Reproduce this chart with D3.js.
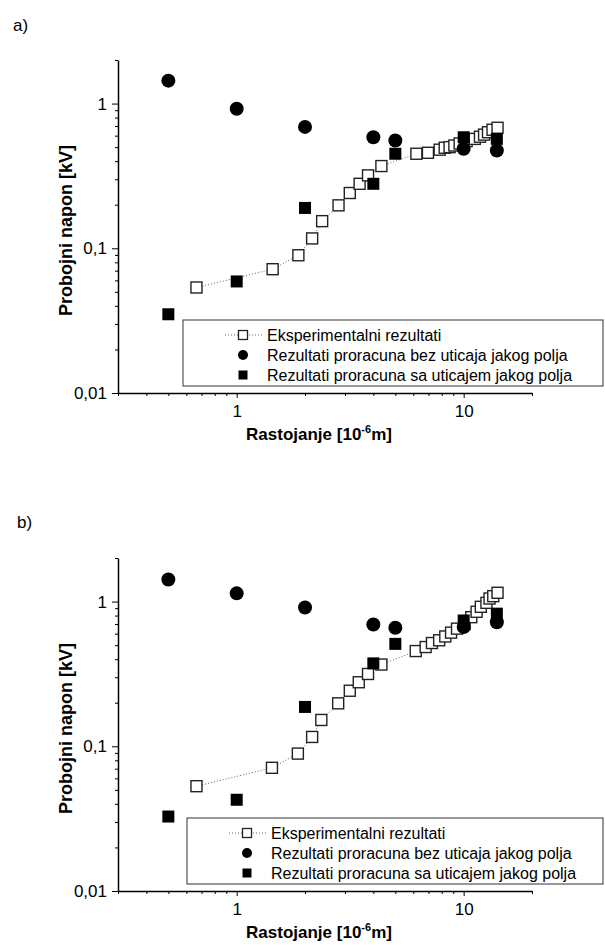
<!DOCTYPE html>
<html lang="sr">
<head>
  <meta charset="UTF-8">
  <title>Probojni napon</title>
  <script src="https://cdn.jsdelivr.net/npm/d3@7"></script>
  <style>
    body { margin: 0; background: #fff; }
    text { font-family: "Liberation Sans", Arial, sans-serif; fill: #000; }
  </style>
</head>
<body>
<script>
// computed points share the same distances
var calcX = [0.5, 1, 2, 4, 5, 10, 14];

// panel a
var aExpX = [0.665, 1.44, 1.87, 2.15, 2.38, 2.81, 3.15, 3.48, 3.79, 4.34, 6.19, 6.96, 7.84, 8.25, 8.67, 9.1, 9.6, 10.3, 11.2, 11.8, 12.3, 12.8, 13.4, 14.1];
var aExpY = [0.0536, 0.0717, 0.0895, 0.117, 0.154, 0.198, 0.241, 0.279, 0.319, 0.37, 0.45, 0.457, 0.48, 0.495, 0.50, 0.513, 0.53, 0.55, 0.57, 0.59, 0.61, 0.634, 0.659, 0.68];
var aBezY = [1.44, 0.92, 0.69, 0.585, 0.556, 0.487, 0.474];
var aSaY  = [0.035, 0.059, 0.19, 0.279, 0.45, 0.585, 0.57];

// panel b
var bExpX = [0.665, 1.43, 1.86, 2.15, 2.36, 2.80, 3.15, 3.45, 3.79, 4.34, 6.15, 6.8, 7.25, 7.8, 8.3, 8.8, 9.35, 10.1, 10.8, 11.4, 11.9, 12.6, 13.0, 13.5, 14.1];
var bExpY = [0.053, 0.071, 0.089, 0.116, 0.152, 0.198, 0.242, 0.277, 0.316, 0.367, 0.455, 0.485, 0.517, 0.54, 0.574, 0.61, 0.65, 0.70, 0.78, 0.85, 0.92, 0.98, 1.05, 1.09, 1.15];
var bBezY = [1.42, 1.14, 0.91, 0.695, 0.66, 0.667, 0.72];
var bSaY  = [0.0327, 0.0427, 0.187, 0.374, 0.51, 0.74, 0.825];

// axes
var xDomain = [0.3, 20];
var yDomain = [0.01, 2];
var xMajor = [1, 10];
var xMajorLabels = ["1", "10"];
var yMajor = [0.01, 0.1, 1];
var yMajorLabels = ["0,01", "0,1", "1"];

var legendLabels = ["Eksperimentalni rezultati",
                    "Rezultati proracuna bez uticaja jakog polja",
                    "Rezultati proracuna sa uticajem jakog polja"];

var w = 605, h = 945;
var svg = d3.select("body").append("svg").attr("width", w).attr("height", h);

function pairs(xs, ys) {
  return xs.map(function(x, i) { return {x: x, y: ys[i]}; });
}

function drawPanel(name, top, bottom, legendLeft, expX, expY, bezY, saY, labelPos) {
  var left = 118, right = 532;
  var xScale = d3.scaleLog().domain(xDomain).range([left, right]);
  var yScale = d3.scaleLog().domain(yDomain).range([bottom, top]);

  var g = svg.append("g");

  svg.append("text")
    .attr("x", labelPos[0]).attr("y", labelPos[1])
    .style("font-size", "17px")
    .text(name);

  // minor ticks
  var xMinor = xScale.ticks().filter(function(d) { return xMajor.indexOf(d) < 0; });
  var yMinor = yScale.ticks().filter(function(d) { return yMajor.indexOf(d) < 0; });

  g.append("g")
    .attr("transform", "translate(0," + bottom + ")")
    .call(d3.axisBottom(xScale).tickValues(xMinor).tickSize(3).tickFormat(""))
    .call(function(s) { s.select(".domain").remove(); });
  g.append("g")
    .attr("transform", "translate(" + left + ",0)")
    .call(d3.axisLeft(yScale).tickValues(yMinor).tickSize(3).tickFormat(""))
    .call(function(s) { s.select(".domain").remove(); });

  // major ticks + labels
  var xAx = g.append("g")
    .attr("transform", "translate(0," + bottom + ")")
    .call(d3.axisBottom(xScale).tickValues(xMajor).tickSize(5).tickSizeOuter(0)
      .tickFormat(function(d, i) { return xMajorLabels[i]; }));
  var yAx = g.append("g")
    .attr("transform", "translate(" + left + ",0)")
    .call(d3.axisLeft(yScale).tickValues(yMajor).tickSize(6).tickSizeOuter(0)
      .tickFormat(function(d, i) { return yMajorLabels[i]; }));

  [xAx, yAx].forEach(function(a) {
    a.select(".domain").attr("stroke-width", 1.5);
    a.selectAll(".tick text").style("font-size", "17px").style("font-family", "Liberation Sans, Arial, sans-serif");
  });
  xAx.selectAll(".tick text").attr("dy", "0.95em");
  yAx.selectAll(".tick text").attr("x", -11);

  g.selectAll(".tick line").attr("stroke", "#000");

  // axis titles
  svg.append("text")
    .attr("transform", "translate(" + 72 + "," + ((top + bottom) / 2 + 4) + ") rotate(-90)")
    .attr("text-anchor", "middle")
    .style("font-size", "18px").style("font-weight", "bold")
    .text("Probojni napon [kV]");

  var xt = svg.append("text")
    .attr("x", (left + right) / 2 - 6).attr("y", bottom + 47)
    .attr("text-anchor", "middle")
    .style("font-size", "17px").style("font-weight", "bold");
  xt.append("tspan").text("Rastojanje [10");
  xt.append("tspan").attr("dy", -7).style("font-size", "11px").text("-6");
  xt.append("tspan").attr("dy", 7).text("m]");

  // experimental: dotted line + open squares
  var exp = pairs(expX, expY);
  var line = d3.line().x(function(d) { return xScale(d.x); }).y(function(d) { return yScale(d.y); });
  g.append("path").datum(exp)
    .attr("d", line)
    .attr("fill", "none").attr("stroke", "#666").attr("stroke-width", 1)
    .attr("stroke-dasharray", "1,2");

  var sq = 11;
  g.selectAll(".exp").data(exp).enter().append("rect")
    .attr("class", "exp")
    .attr("x", function(d) { return xScale(d.x) - sq / 2; })
    .attr("y", function(d) { return yScale(d.y) - sq / 2; })
    .attr("width", sq).attr("height", sq)
    .attr("fill", "#fff").attr("stroke", "#222").attr("stroke-width", 1.4);

  g.selectAll(".bez").data(pairs(calcX, bezY)).enter().append("circle")
    .attr("class", "bez")
    .attr("cx", function(d) { return xScale(d.x); })
    .attr("cy", function(d) { return yScale(d.y); })
    .attr("r", 7)
    .attr("fill", "#000");

  g.selectAll(".sa").data(pairs(calcX, saY)).enter().append("rect")
    .attr("class", "sa")
    .attr("x", function(d) { return xScale(d.x) - 6; })
    .attr("y", function(d) { return yScale(d.y) - 6; })
    .attr("width", 12).attr("height", 12)
    .attr("fill", "#000");

  // legend
  var lt = bottom - 73, lb = bottom - 7;
  g.append("rect")
    .attr("x", legendLeft).attr("y", lt)
    .attr("width", 603 - legendLeft).attr("height", lb - lt)
    .attr("fill", "#fff").attr("stroke", "#333").attr("stroke-width", 1);

  var mx = legendLeft + 60, tx = legendLeft + 84;
  var rows = [lt + 15, lt + 35, lt + 55];
  g.append("line")
    .attr("x1", mx - 18).attr("x2", mx + 20)
    .attr("y1", rows[0]).attr("y2", rows[0])
    .attr("stroke", "#666").attr("stroke-dasharray", "1,2");
  g.append("rect")
    .attr("x", mx - 4.5).attr("y", rows[0] - 4.5).attr("width", 9).attr("height", 9)
    .attr("fill", "#fff").attr("stroke", "#222").attr("stroke-width", 1.3);
  g.append("circle").attr("cx", mx).attr("cy", rows[1]).attr("r", 5).attr("fill", "#000");
  g.append("rect")
    .attr("x", mx - 4.5).attr("y", rows[2] - 4.5).attr("width", 9).attr("height", 9)
    .attr("fill", "#000");

  g.selectAll(".leg").data(legendLabels).enter().append("text")
    .attr("class", "leg")
    .attr("x", tx)
    .attr("y", function(d, i) { return rows[i] + 6; })
    .style("font-size", "16px")
    .text(function(d) { return d; });
}

drawPanel("a)", 60, 393, 183, aExpX, aExpY, aBezY, aSaY, [13, 31]);
drawPanel("b)", 558, 891, 187, bExpX, bExpY, bBezY, bSaY, [17, 528]);
</script>
</body>
</html>
